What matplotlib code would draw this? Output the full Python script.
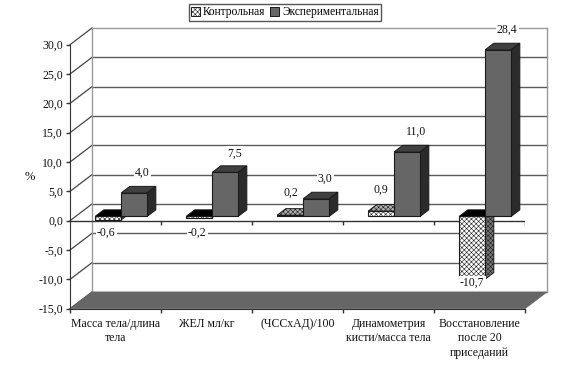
import numpy as np
import matplotlib
matplotlib.use("Agg")
import matplotlib.pyplot as plt
from matplotlib.patches import Polygon, Patch

categories = ["Масса тела/длина\nтела", "ЖЕЛ мл/кг", "(ЧССхАД)/100",
              "Динамометрия\nкисти/масса тела", "Восстановление\nпосле 20\nприседаний"]
control = [-0.6, -0.2, 0.2, 0.9, -10.7]
experiment = [4.0, 7.5, 3.0, 11.0, 28.4]
yticks = [-15, -10, -5, 0, 5, 10, 15, 20, 25, 30]
series_names = ["Контрольная", "Экспериментальная"]

plt.rcParams['font.family'] = ['Liberation Serif', 'DejaVu Serif']
plt.rcParams['hatch.linewidth'] = 0.4

# shift of the back wall, in category units and value units
DX = 0.2418
DY = 2.85
D0, D1 = 0.26, 0.65
BAR_W = 0.286
HATCH = 'xxxxxxx'


def proj(x, v, d):
    return x + d * DX, v + d * DY


def face(ax, pts, z, **kw):
    ax.add_patch(Polygon([proj(*p) for p in pts], closed=True, clip_on=False, zorder=z, **kw))


def bar3d(ax, x0, val, front, top, side, hatch, z):
    x1 = x0 + BAR_W
    ecol = '#1a1a1a'
    # top face sits at the upper end of the bar, black when it is the open end of a negative bar
    up = max(val, 0)
    top_col = top if val >= 0 else 'black'
    top_hatch = hatch if val >= 0 else None
    face(ax, [(x0, up, D0), (x1, up, D0), (x1, up, D1), (x0, up, D1)], z,
         facecolor=top_col, edgecolor=ecol, lw=0.7, hatch=top_hatch)
    face(ax, [(x1, 0, D0), (x1, val, D0), (x1, val, D1), (x1, 0, D1)], z,
         facecolor=side, edgecolor=ecol, lw=0.7, hatch=hatch)
    face(ax, [(x0, 0, D0), (x1, 0, D0), (x1, val, D0), (x0, val, D0)], z + 0.1,
         facecolor=front, edgecolor=ecol, lw=0.8, hatch=hatch)


fig = plt.figure(figsize=(5.7, 3.7), dpi=100, facecolor='white')
ax = fig.add_axes([70 / 570, (370 - 308.7) / 370, 455 / 570, 264 / 370])
ax.patch.set_visible(False)
n = len(categories)
ax.set_xlim(0, n)
ax.set_ylim(-15, 30)

# walls
for v in yticks:
    col = '#9a9a9a' if v in (30, -15) else '#5a5a5a'
    xs, ys = zip(proj(0, v, 1), proj(n, v, 1))
    ax.plot(xs, ys, color=col, lw=1.0, zorder=1, clip_on=False)
    xs, ys = zip(proj(0, v, 0), proj(0, v, 1))
    ax.plot(xs, ys, color='#444444', lw=0.9, zorder=1, clip_on=False)
xs, ys = zip(proj(0, -15, 1), proj(0, 30, 1))
ax.plot(xs, ys, color='#9a9a9a', lw=1.0, zorder=1, clip_on=False)
xs, ys = zip(proj(n, -15, 1), proj(n, 30, 1))
ax.plot(xs, ys, color='#9a9a9a', lw=1.0, zorder=1, clip_on=False)
face(ax, [(0, -15, 0), (n, -15, 0), (n, -15, 1), (0, -15, 1)], 1.5,
     facecolor='#666666', edgecolor='#666666', lw=0.5)

# zero line with its ticks
ax.plot([0, n], [0, 0], color='#333333', lw=1.0, zorder=2)
ax.vlines(np.arange(1, n + 1), -0.7, 0, color='#333333', lw=1.0, zorder=2)

for i in range(n):
    bar3d(ax, i + 0.5 - BAR_W, control[i], 'white', '#b0b0b0', '#777777', HATCH, 3 + i)
    bar3d(ax, i + 0.5, experiment[i], '#666666', '#404040', '#2b2b2b', None, 3.5 + i)

# value labels
ctrl_off = [(-2, -13), (-2, -15), (1, 22), (0, 21), (0, -4)]
exp_off = [(8, 20), (9, 19), (9, 20), (9, 20), (9, 20)]
for i in range(n):
    for val, off, x in ((control[i], ctrl_off[i], i + 0.5 - BAR_W / 2),
                        (experiment[i], exp_off[i], i + 0.5 + BAR_W / 2)):
        ax.annotate(f"{val:.1f}".replace('.', ','), xy=proj(x, val, D0), xytext=off,
                    textcoords='offset pixels', ha='center', va='center', fontsize=8.5,
                    color='#111111', zorder=20, annotation_clip=False,
                    bbox=dict(facecolor='white', edgecolor='none', pad=0.8))

for s in ('top', 'right'):
    ax.spines[s].set_visible(False)
for s in ('left', 'bottom'):
    ax.spines[s].set_color('#333333')
    ax.spines[s].set_zorder(2)
ax.set_yticks(yticks)
ax.set_yticklabels([f"{v:.1f}".replace('.', ',') for v in yticks], fontsize=8.5, color='#111111')
ax.set_xticks(np.arange(0, n + 1))
ax.set_xticklabels([])
ax.set_xticks(np.arange(n) + 0.5, minor=True)
ax.set_xticklabels(categories, minor=True, fontsize=8.5, color='#111111', linespacing=1.3)
ax.tick_params(axis='x', which='minor', length=0, pad=6.5)
ax.tick_params(axis='both', which='major', length=3, width=1, color='#333333', pad=2)
ax.set_ylabel('%', rotation=0, fontsize=9, color='#111111')
ax.yaxis.set_label_coords(-40 / 455, (308.7 - 183) / 264)

handles = [Patch(facecolor='white', edgecolor='#1a1a1a', hatch=HATCH, lw=0.7),
           Patch(facecolor='#666666', edgecolor='#1a1a1a', lw=0.7)]
fig.legend(handles, series_names, loc='center', bbox_to_anchor=(285 / 570, (370 - 12.5) / 370),
           ncol=2, fontsize=8.3, frameon=True, fancybox=False, edgecolor='#555555', framealpha=1,
           handlelength=0.8, handleheight=0.8, handletextpad=0.25, columnspacing=0.4,
           borderpad=0.2, borderaxespad=0)

fig.savefig('out.png', dpi=100)
